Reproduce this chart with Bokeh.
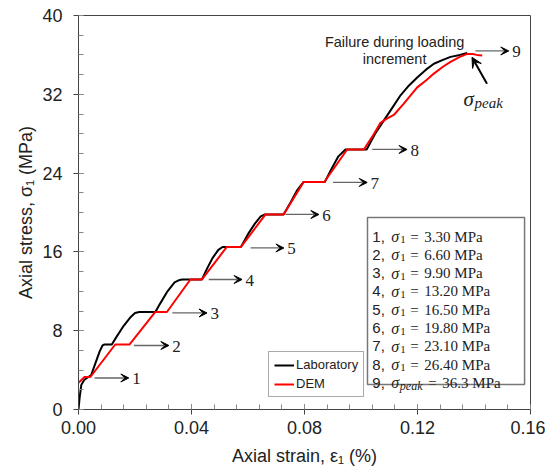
from bokeh.plotting import figure
from bokeh.models import (Range1d, SingleIntervalTicker, NumeralTickFormatter,
                          Arrow, VeeHead, ColumnDataSource)
from bokeh.core.properties import value
from bokeh.embed import file_html
from bokeh.resources import INLINE

# ---------------- data ----------------
lab_strain = [0.0, 0.0004, 0.0010, 0.0020, 0.0035, 0.0045, 0.0060, 0.0075, 0.0085, 0.0092,
              0.0118, 0.0135, 0.0160, 0.0185, 0.0200, 0.0215, 0.0272, 0.0290, 0.0315,
              0.0340, 0.0358, 0.0368, 0.0437, 0.0455, 0.0475, 0.0495, 0.0510, 0.0575,
              0.0600, 0.0625, 0.0645, 0.0660, 0.0726, 0.0750, 0.0775, 0.0797, 0.0872,
              0.0895, 0.0920, 0.0945, 0.1020, 0.1050, 0.1080, 0.1110, 0.1140, 0.1170,
              0.1199, 0.1230, 0.1258, 0.1290, 0.1317, 0.1350, 0.1376]
lab_stress = [0.0, 1.2, 2.5, 3.0, 3.3, 3.5, 4.7, 5.9, 6.5, 6.6,
              6.6, 7.4, 8.5, 9.4, 9.8, 9.9, 9.9, 10.8, 12.0,
              12.9, 13.15, 13.2, 13.2, 14.3, 15.4, 16.2, 16.5, 16.5,
              17.8, 18.9, 19.6, 19.8, 19.8, 21.0, 22.3, 23.1, 23.1,
              24.4, 25.7, 26.4, 26.4, 28.0, 29.3, 30.6, 31.9, 32.9,
              33.7, 34.5, 35.1, 35.5, 35.8, 36.0, 36.2]

dem_strain = [0.0, 0.0021, 0.0042, 0.0130, 0.0181, 0.0272, 0.0313, 0.0396, 0.0437,
              0.0525, 0.0575, 0.0662, 0.0726, 0.0797, 0.0870, 0.0951, 0.1010,
              0.1040, 0.1069, 0.1090, 0.1116, 0.1150, 0.1199, 0.1230, 0.1258,
              0.1290, 0.1317, 0.1350, 0.1376, 0.1395, 0.1410, 0.1429]
dem_stress = [2.7, 3.3, 3.3, 6.6, 6.6, 9.9, 9.9, 13.2, 13.2,
              16.5, 16.5, 19.8, 19.8, 23.1, 23.1, 26.4, 26.4,
              27.7, 29.1, 29.5, 29.9, 31.0, 32.7, 33.4, 34.1,
              34.8, 35.3, 35.8, 36.1, 36.1, 36.0, 35.95]

# increment arrows
arrow_x0 = [0.0057, 0.0196, 0.0332, 0.0461, 0.0609, 0.0733, 0.0901, 0.1040, 0.1405]
arrow_x1 = [0.0178, 0.0320, 0.0455, 0.0579, 0.0727, 0.0851, 0.1022, 0.1163, 0.1523]
arrow_y = [3.2, 6.5, 9.8, 13.2, 16.4, 19.8, 23.05, 26.4, 36.4]
arrow_labels = ["1", "2", "3", "4", "5", "6", "7", "8", "9"]

# list box
list_ids = ["1,", "2,", "3,", "4,", "5,", "6,", "7,", "8,", "9,"]
list_values = ["3.30 MPa", "6.60 MPa", "9.90 MPa", "13.20 MPa", "16.50 MPa",
               "19.80 MPa", "23.10 MPa", "26.40 MPa", "36.3 MPa"]

x_ticks_interval = 0.04
y_ticks_interval = 8

# ---------------- figure ----------------
p = figure(width=545, height=470, output_backend="svg", toolbar_location=None,
           x_range=Range1d(0, 0.16), y_range=Range1d(0, 40),
           min_border_left=78, min_border_right=15, min_border_top=15,
           min_border_bottom=61)
p.grid.visible = False
p.outline_line_color = "#444444"
p.outline_line_width = 1
p.background_fill_color = "white"
p.border_fill_color = "white"

p.xaxis.ticker = SingleIntervalTicker(interval=x_ticks_interval, num_minor_ticks=5)
p.yaxis.ticker = SingleIntervalTicker(interval=y_ticks_interval, num_minor_ticks=4)
p.xaxis.formatter = NumeralTickFormatter(format="0.00")
p.yaxis.formatter = NumeralTickFormatter(format="0")

for ax in (p.xaxis[0], p.yaxis[0]):
    ax.axis_line_color = "#444444"
    ax.major_tick_line_color = "#444444"
    ax.minor_tick_line_color = "#888888"
    ax.major_tick_in = 5
    ax.major_tick_out = 5
    ax.minor_tick_in = 5
    ax.minor_tick_out = 0
    ax.major_label_text_font = "Liberation Sans"
    ax.major_label_text_font_size = "18px"
    ax.major_label_text_color = "#222222"
    ax.axis_label_text_font = "Liberation Sans"
    ax.axis_label_text_font_size = "18px"
    ax.axis_label_text_font_style = "normal"
    ax.axis_label_text_color = "#222222"

p.xaxis.axis_label = "Axial strain, ε₁ (%)"
p.yaxis.axis_label = "Axial stress, σ₁ (MPa)"
p.xaxis.major_label_standoff = 6
p.yaxis.major_label_standoff = 11
p.xaxis.axis_label_standoff = 9
p.yaxis.axis_label_standoff = 3

# curves
p.line(lab_strain, lab_stress, line_color="black", line_width=2, legend_label="Laboratory")
p.line(dem_strain, dem_stress, line_color="#ff0000", line_width=2, legend_label="DEM")

leg = p.legend[0]
leg.location = (190, 12)
leg.label_text_font = "Liberation Sans"
leg.label_text_font_size = "13px"
leg.label_text_color = "#222222"
leg.glyph_width = 20
leg.glyph_height = 14
leg.label_height = 14
leg.label_standoff = 2
leg.spacing = 4
leg.padding = 5
leg.margin = 0
leg.border_line_color = "#555555"
leg.border_line_width = 1.2
leg.background_fill_alpha = 1

# increment arrows
asrc = ColumnDataSource(dict(x0=arrow_x0, x1=arrow_x1, y=arrow_y))
p.add_layout(Arrow(end=VeeHead(size=8, fill_color="black", line_color="black"),
                   x_start="x0", y_start="y", x_end="x1", y_end="y", source=asrc,
                   line_color="#666666", line_width=1.3))
p.text(x=[v + 0.0012 for v in arrow_x1], y=arrow_y, text=arrow_labels,
       text_baseline="middle", text_align="left", y_offset=1,
       text_font=value("Liberation Serif"), text_font_size="17px", text_color="#222222")

# failure annotation
p.text(x=[0.1119, 0.1119], y=[37.36, 35.63], text=["Failure during loading", "increment"],
       text_align="center", text_baseline="alphabetic",
       text_font=value("Liberation Sans"), text_font_size="14.5px", text_color="#222222")
p.add_layout(Arrow(end=VeeHead(size=10, fill_color="black", line_color="black"),
                   x_start=0.1446, y_start=33.06, x_end=0.1393, y_end=35.76,
                   line_color="black", line_width=2))
p.text(x=[0.1363], y=[31.57], text=["σ"], text_baseline="alphabetic",
       text_font=value("Liberation Serif"), text_font_style="italic",
       text_font_size="21px", text_color="#222222")
p.text(x=[0.1363], y=[31.57], text=["peak"], text_baseline="alphabetic",
       x_offset=11, y_offset=4,
       text_font=value("Liberation Serif"), text_font_style="italic",
       text_font_size="15px", text_color="#222222")

# list box (drawn as a glyph so that the texts lie above it)
p.quad(left=[0.1023], right=[0.1579], bottom=[2.54], top=[19.49],
       fill_color="white", line_color="#777777", line_width=1.5)
x0 = 0.104
ys = [(409 - (236 + 18.3 * i)) / 9.85 for i in range(len(list_ids))]
n8 = len(list_ids) - 1
serif = value("Liberation Serif")
p.text(x=[x0] * len(ys), y=ys, text=list_ids, text_baseline="alphabetic",
       text_font=value("Liberation Sans"), text_font_size="15px", text_color="#222222")
p.text(x=[x0] * len(ys), y=ys, text=["σ"] * len(ys), text_baseline="alphabetic",
       x_offset=19, text_font=serif, text_font_style="italic",
       text_font_size="16px", text_color="#222222")
p.text(x=[x0] * n8, y=ys[:n8], text=["1"] * n8, text_baseline="alphabetic",
       x_offset=28, y_offset=3, text_font=serif,
       text_font_size="11px", text_color="#222222")
p.text(x=[x0] * n8, y=ys[:n8], text=["="] * n8, text_baseline="alphabetic",
       x_offset=38, text_font=serif, text_font_size="15px", text_color="#222222")
p.text(x=[x0] * n8, y=ys[:n8], text=list_values[:n8], text_baseline="alphabetic",
       x_offset=52, text_font=serif, text_font_size="15px", text_color="#222222")
p.text(x=[x0], y=[ys[n8]], text=["peak"], text_baseline="alphabetic",
       x_offset=27.5, y_offset=3, text_font=serif, text_font_style="italic",
       text_font_size="12px", text_color="#222222")
p.text(x=[x0], y=[ys[n8]], text=["="], text_baseline="alphabetic",
       x_offset=56, text_font=serif, text_font_size="15px", text_color="#222222")
p.text(x=[x0], y=[ys[n8]], text=[list_values[n8]], text_baseline="alphabetic",
       x_offset=70, text_font=serif, text_font_size="15px", text_color="#222222")

open("out.html", "w").write(file_html(p, INLINE))
